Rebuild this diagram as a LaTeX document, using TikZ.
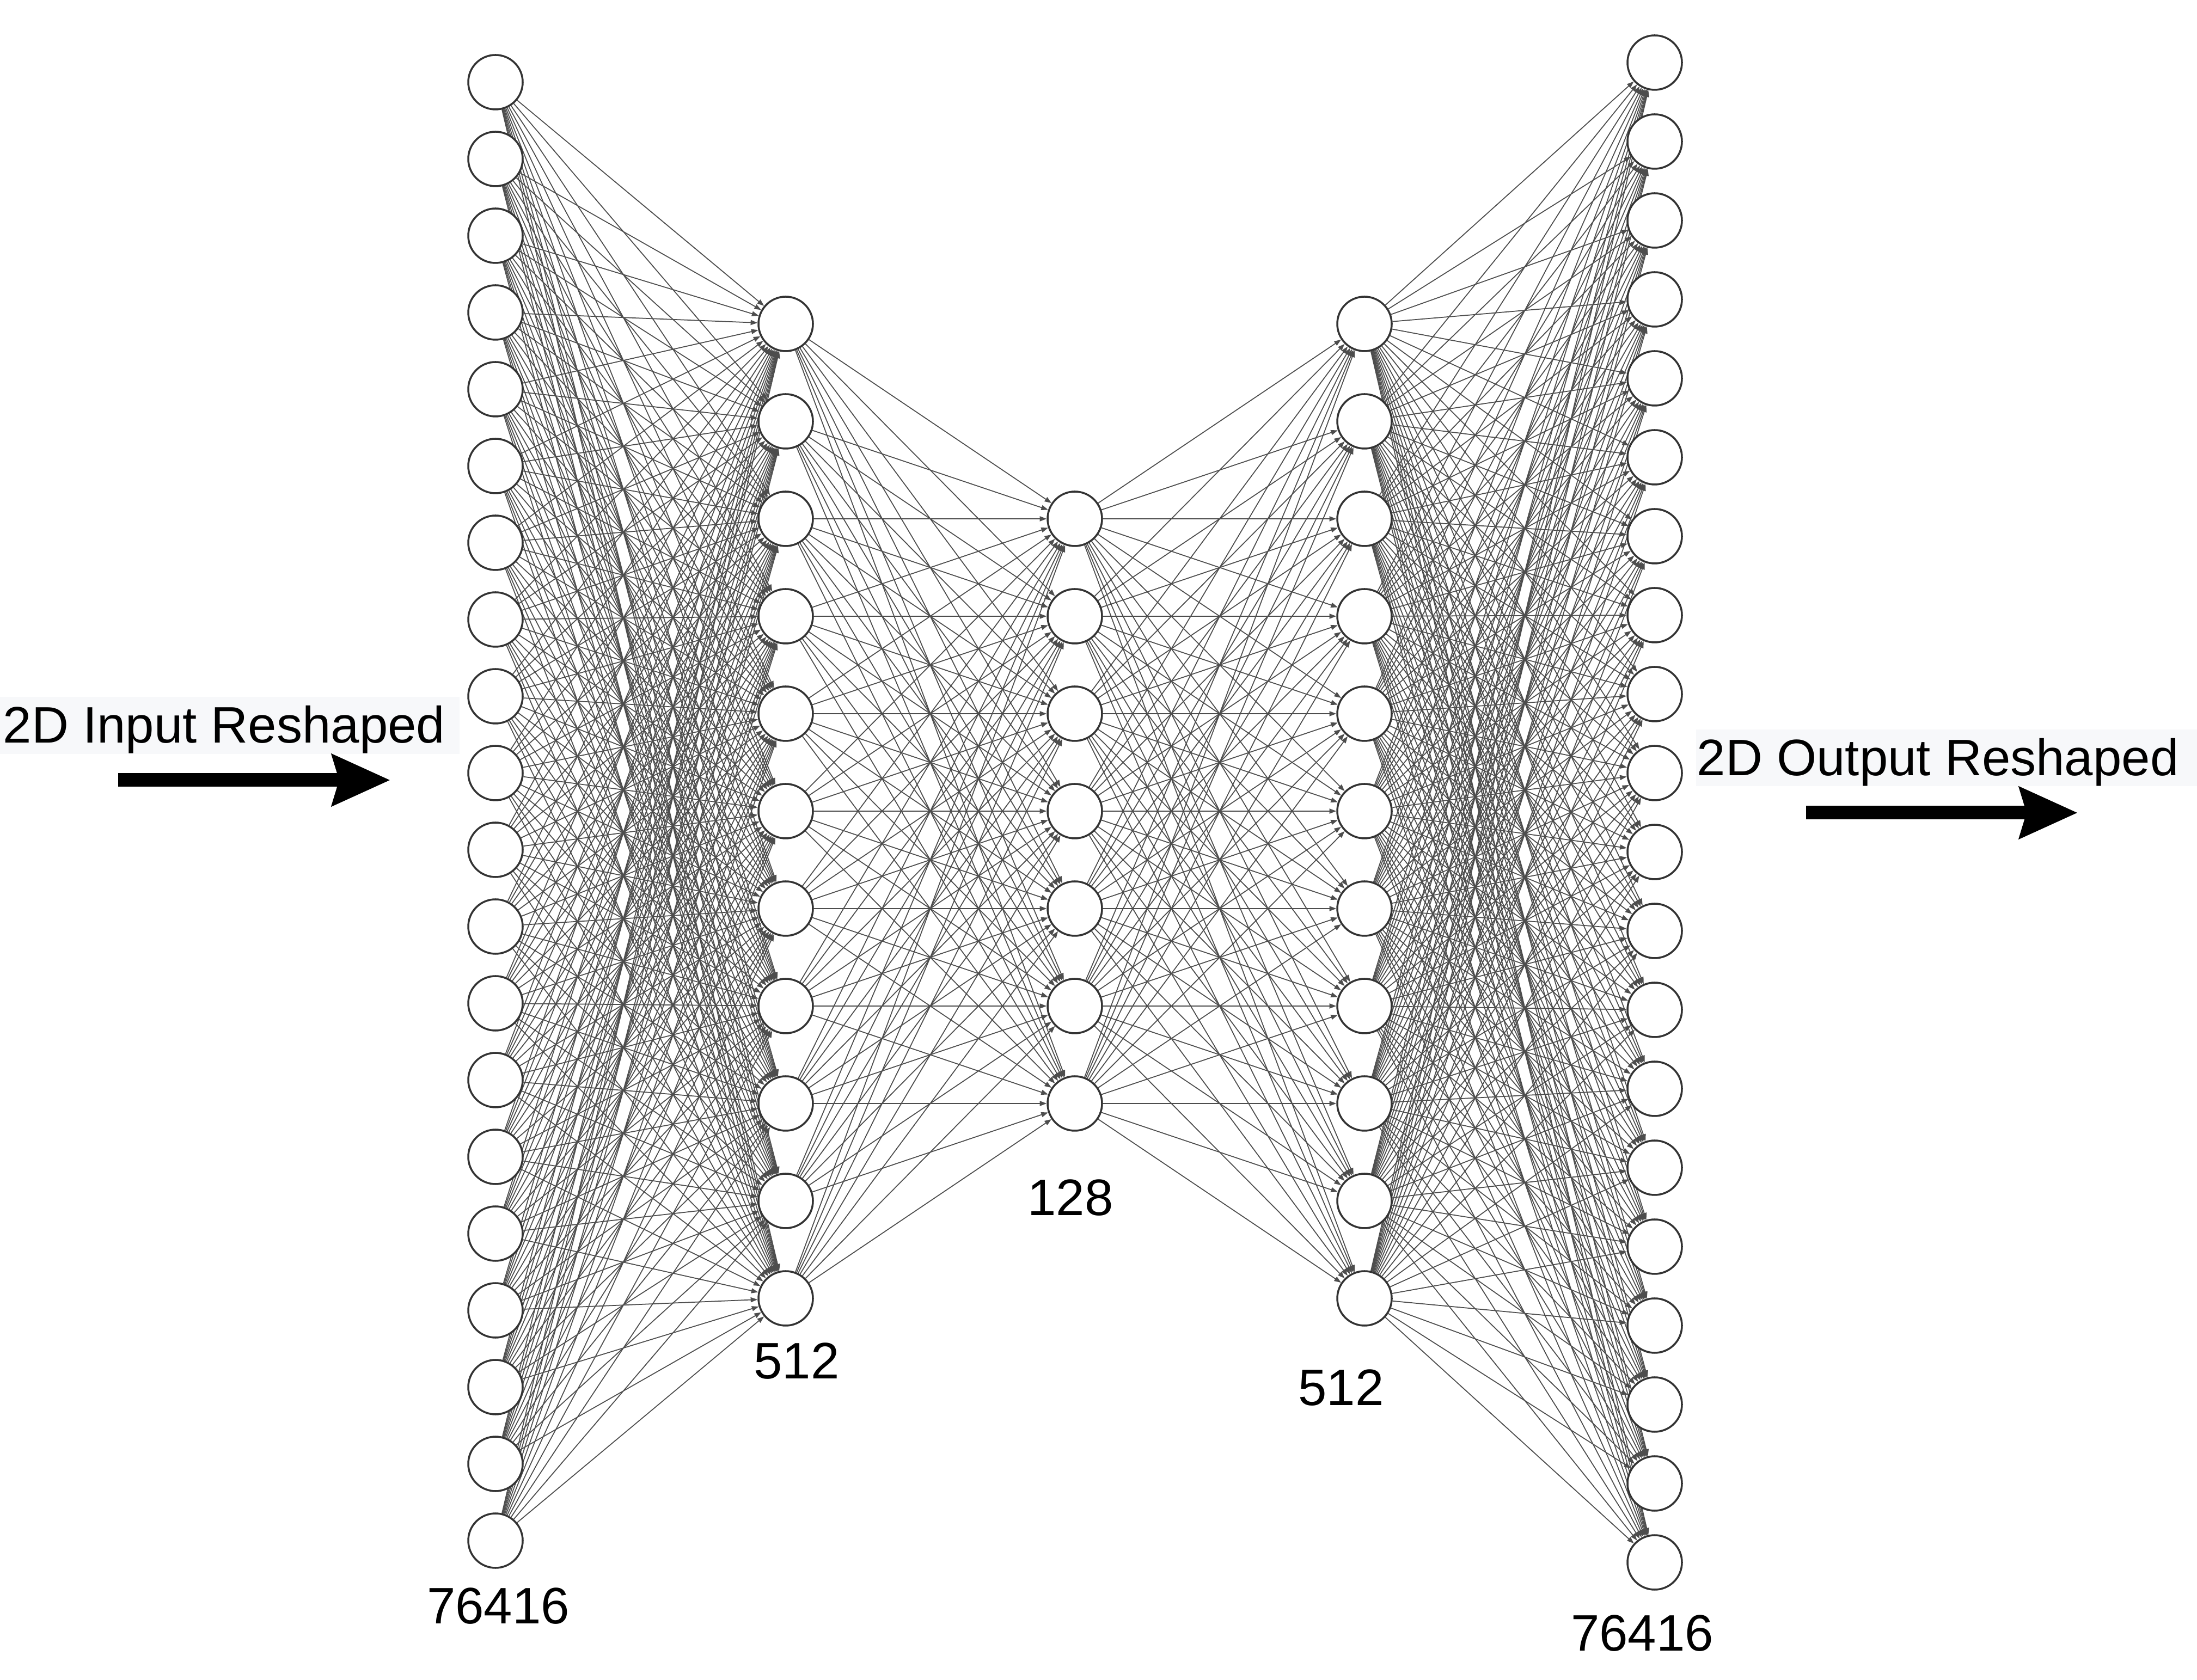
\documentclass[tikz,border=0pt]{standalone}
\usepackage{fontspec}
\setmainfont{Liberation Sans}
\usetikzlibrary{arrows.meta}
\pgfdeclarelayer{background}
\pgfsetlayers{background,main}
\definecolor{nodegray}{HTML}{333333}
\definecolor{linkgray}{HTML}{4D4D4D}
\definecolor{boxgray}{HTML}{F7F8FA}

\begin{document}
\begin{tikzpicture}[
  neuron/.style={circle, draw=nodegray, line width=1pt, fill=white, minimum size=1.0cm, inner sep=0pt},
  link/.style={linkgray, line width=0.5pt, -{Triangle[length=3.6pt,width=2.6pt]}},
  lbl/.style={font=\fontsize{26.8}{32}\selectfont, inner sep=0pt},
  bigarrow/.style={black, line width=0.25cm, -{Stealth[length=1.06cm,width=0.92cm,inset=0.12cm]}}
]
  \useasboundingbox (0,0) rectangle (40.35,30.85);

  % ── layer columns ────────────────────────────────────────────────────────
  \def\xin{9.10}\def\xenc{14.43}\def\xcode{19.74}\def\xdec{25.06}\def\xout{30.39}

  % ── neurons ──────────────────────────────────────────────────────────────
  \foreach \i in {0,...,19}{
    \node[neuron] (inp-\i) at ({\xin},{29.34-1.41*\i}) {};
    \node[neuron] (outp-\i) at ({\xout},{29.70-1.45*\i}) {};
  }
  \foreach \i in {0,...,10}{
    \node[neuron] (enc-\i) at ({\xenc},{24.90-1.79*\i}) {};
    \node[neuron] (dec-\i) at ({\xdec},{24.90-1.79*\i}) {};
  }
  \foreach \i in {0,...,6}{
    \node[neuron] (code-\i) at ({\xcode},{21.32-1.79*\i}) {};
  }

  % ── fully connected links (behind the neurons) ───────────────────────────
  \begin{pgfonlayer}{background}
    \foreach \i in {0,...,19}{
      \foreach \j in {0,...,10}{
        \draw[link] (inp-\i) -- (enc-\j);
        \draw[link] (dec-\j) -- (outp-\i);
      }
    }
    \foreach \i in {0,...,10}{
      \foreach \j in {0,...,6}{
        \draw[link] (enc-\i) -- (code-\j);
        \draw[link] (code-\j) -- (dec-\i);
      }
    }
  \end{pgfonlayer}

  % ── layer sizes ──────────────────────────────────────────────────────────
  \node[lbl] (size-inp) at (9.15,1.35) {76416};
  \node[lbl] (size-enc) at (14.63,5.85) {512};
  \node[lbl] (size-code) at (19.66,8.85) {128};
  \node[lbl] (size-dec) at (24.63,5.36) {512};
  \node[lbl] (size-outp) at (30.16,0.85) {76416};

  % ── input / output captions ──────────────────────────────────────────────
  \fill[boxgray] (0,17.00) rectangle (8.44,18.05);
  \node[lbl, anchor=base west] (cap-inp) at (0.05,17.20) {2D Input Reshaped};
  \coordinate (inp-tail) at (2.17,16.52);
  \coordinate (inp-head) at (7.17,16.52);
  \draw[bigarrow] (inp-tail) -- (inp-head);

  \fill[boxgray] (31.15,16.41) rectangle (40.35,17.45);
  \node[lbl, anchor=base west] (cap-outp) at (31.16,16.60) {2D Output Reshaped};
  \coordinate (outp-tail) at (33.17,15.92);
  \coordinate (outp-head) at (38.16,15.92);
  \draw[bigarrow] (outp-tail) -- (outp-head);

\end{tikzpicture}
\end{document}
